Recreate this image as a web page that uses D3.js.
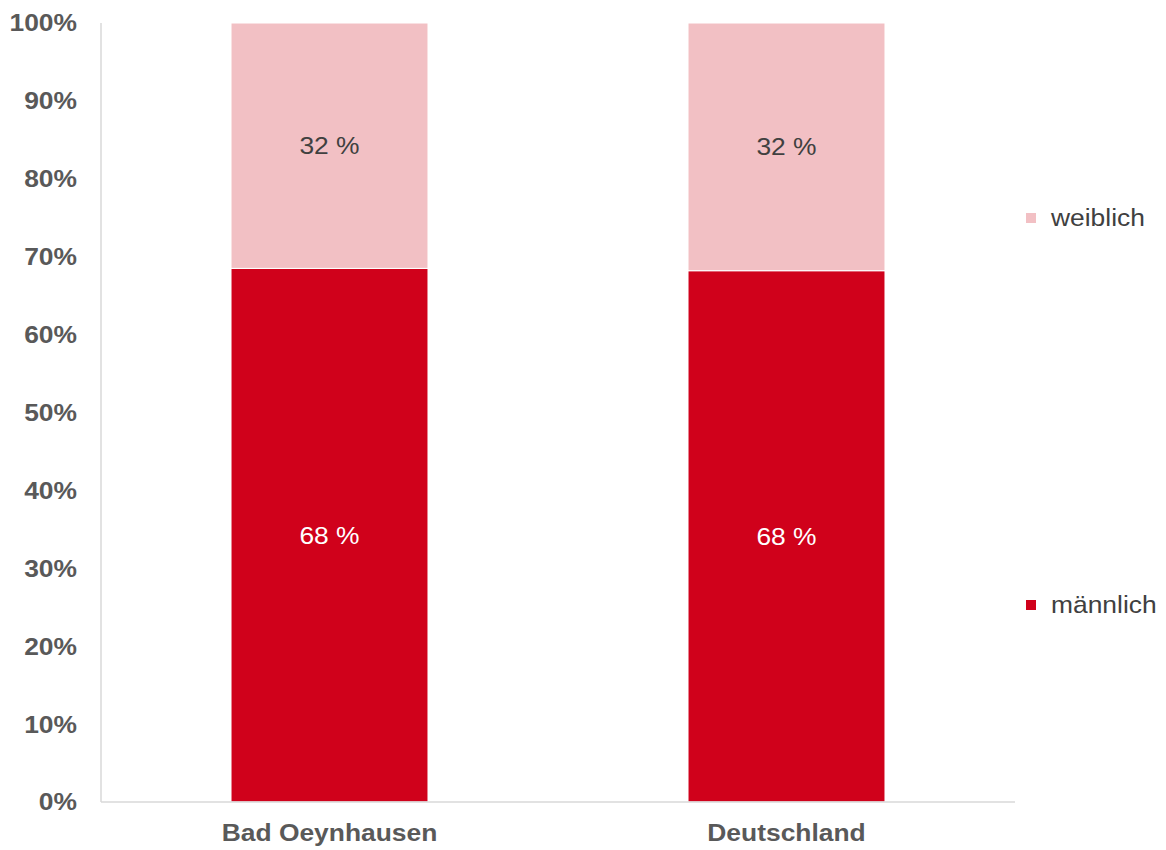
<!DOCTYPE html>
<html><head><meta charset="utf-8">
<script src="https://cdn.jsdelivr.net/npm/d3@7"></script>
<style>body{margin:0;background:#fff;}svg{display:block;font-family:"Liberation Sans",Arial,sans-serif;}</style>
</head><body>
<svg id="c" width="1166" height="850"></svg>
<script>
const categories = ["Bad Oeynhausen", "Deutschland"];
const maennlich = [68.5, 68.2];
const weiblich = [31.5, 31.8];
const maennlichLabels = ["68 %", "68 %"];
const weiblichLabels = ["32 %", "32 %"];
const yTicks = [0,10,20,30,40,50,60,70,80,90,100];
const seriesNames = ["männlich", "weiblich"];
const colors = {"männlich":"#D0011B", "weiblich":"#F2C0C4"};

const FS = 24, SX = 1.1;
const svg = d3.select("#c");
const x = d3.scaleBand().domain(categories).range([101,1015]).paddingInner(0.569).paddingOuter(0.2845);
const y = d3.scaleLinear().domain([0,100]).range([802,23]);

const rows = categories.map((c,i)=>({cat:c, "männlich":maennlich[i], "weiblich":weiblich[i], ml:maennlichLabels[i], wl:weiblichLabels[i]}));
const stack = d3.stack().keys(seriesNames)(rows);

svg.append("line").attr("x1",101).attr("x2",101).attr("y1",y(100)).attr("y2",y(0)).attr("stroke","#d9d9d9").attr("stroke-width",1.5);

stack.forEach(s=>{
  svg.append("g").selectAll("rect").data(s).join("rect")
    .attr("x",d=>x(d.data.cat)).attr("width",x.bandwidth())
    .attr("y",d=>y(d[1])).attr("height",d=>y(d[0])-y(d[1]))
    .attr("fill",colors[s.key]).attr("stroke","#fff").attr("stroke-width",1);
});
svg.append("line").attr("x1",101).attr("x2",1015).attr("y1",y(0)).attr("y2",y(0)).attr("stroke","#d9d9d9").attr("stroke-width",1.5);

function place(sel, fx, fy){
  return sel.attr("transform",(d,i)=>`translate(${fx(d,i)},${fy(d,i)}) scale(${SX},1)`);
}

stack.forEach(s=>{
  place(svg.append("g").selectAll("text").data(s).join("text"),
    d=>x(d.data.cat)+x.bandwidth()/2, d=>(y(d[0])+y(d[1]))/2)
    .attr("dy","0.35em").attr("text-anchor","middle")
    .attr("font-size",FS)
    .attr("fill", s.key==="männlich" ? "#ffffff" : "#404040")
    .text(d=> s.key==="männlich" ? d.data.ml : d.data.wl);
});

place(svg.append("g").selectAll("text").data(yTicks).join("text"), ()=>77, d=>y(d))
  .attr("dy","0.35em").attr("text-anchor","end")
  .attr("font-size",FS).attr("font-weight","bold").attr("fill","#595959")
  .text(d=>d+"%");

place(svg.append("g").selectAll("text").data(categories).join("text"), d=>x(d)+x.bandwidth()/2, ()=>833)
  .attr("dy","0.35em").attr("text-anchor","middle")
  .attr("font-size",FS).attr("font-weight","bold").attr("fill","#595959")
  .text(d=>d);

const legend = [{k:"weiblich", y:218},{k:"männlich", y:605}];
const lg = svg.append("g").selectAll("g").data(legend).join("g");
lg.append("rect").attr("x",1026).attr("y",d=>d.y-5).attr("width",10).attr("height",10).attr("fill",d=>colors[d.k]);
place(lg.append("text"), ()=>1051, d=>d.y).attr("dy","0.35em").attr("font-size",FS).attr("fill","#404040").text(d=>d.k);
</script>
</body></html>
